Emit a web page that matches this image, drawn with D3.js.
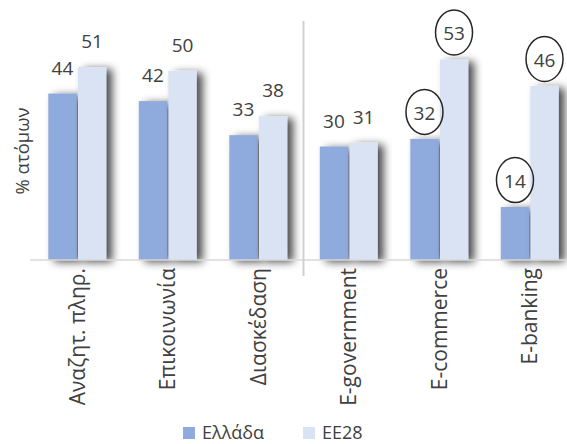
<!DOCTYPE html>
<html>
<head>
<meta charset="utf-8">
<script src="https://cdn.jsdelivr.net/npm/d3@7"></script>
<style>
  body { margin: 0; background: #fff; }
  text { font-family: "Open Sans", "Noto Sans", sans-serif; fill: #404040; }
</style>
</head>
<body>
<div id="chart"></div>
<script>
// Chart data
const categories = ["Αναζητ. πληρ.", "Επικοινωνία", "Διασκέδαση", "E-government", "E-commerce", "E-banking"];
const seriesNames = ["Ελλάδα", "ΕΕ28"];
const greece = [44, 42, 33, 30, 32, 14];
const eu28 = [51, 50, 38, 31, 53, 46];
const circled = ["E-commerce", "E-banking"];
const colors = ["#8faadc", "#dae3f3"];

const width = 567, height = 444;

const svg = d3.select("#chart").append("svg")
    .attr("width", width)
    .attr("height", height);

// Shadow like Excel's outer shadow
const defs = svg.append("defs");
defs.append("filter")
    .attr("id", "shadow")
    .attr("x", "-20%").attr("y", "-10%")
    .attr("width", "170%").attr("height", "130%")
  .append("feDropShadow")
    .attr("dx", 6).attr("dy", 2)
    .attr("stdDeviation", 4)
    .attr("flood-color", "#000")
    .attr("flood-opacity", 0.7);

// Scales
const x0 = d3.scaleBand().domain(categories).range([32, 575])
    .paddingInner(0.36).paddingOuter(0.18);
const x1 = d3.scaleBand().domain(seriesNames).range([0, x0.bandwidth()]).paddingInner(0.04);
const y = d3.scaleLinear().domain([0, 60]).range([260, 33]);

const rows = categories.map((c, i) => ({
    cat: c,
    values: [
        {key: seriesNames[0], value: greece[i]},
        {key: seriesNames[1], value: eu28[i]}
    ]
}));

// Bars
const groups = svg.append("g").selectAll("g")
    .data(rows)
    .enter().append("g")
    .attr("transform", d => "translate(" + x0(d.cat) + ",0)");

groups.selectAll("rect")
    .data(d => d.values)
    .enter().append("rect")
    .attr("x", d => x1(d.key))
    .attr("y", d => y(d.value))
    .attr("width", x1.bandwidth())
    .attr("height", d => y(0) - y(d.value))
    .attr("fill", (d, i) => colors[i])
    .attr("filter", "url(#shadow)");

// Axis line
svg.append("line")
    .attr("x1", 30).attr("x2", width)
    .attr("y1", y(0)).attr("y2", y(0))
    .attr("stroke", "#d9d9d9").attr("stroke-width", 1.5);

// Separator between categories 3 and 4
const sepX = (x0(categories[2]) + x0.bandwidth() + x0(categories[3])) / 2;
svg.append("line")
    .attr("x1", sepX).attr("x2", sepX)
    .attr("y1", 21).attr("y2", 276)
    .attr("stroke", "#d0d0d0").attr("stroke-width", 2);

// Value labels
groups.each(function(row) {
    const g = d3.select(this);
    row.values.forEach(v => {
        const cx = x1(v.key) + x1.bandwidth() / 2;
        const by = y(v.value) - 19;
        if (circled.includes(row.cat)) {
            g.append("ellipse")
                .attr("cx", cx).attr("cy", by - 8)
                .attr("rx", 18.5).attr("ry", 22.5)
                .attr("fill", "none")
                .attr("stroke", "#262626").attr("stroke-width", 1.5);
        }
        g.append("text")
            .attr("x", cx).attr("y", by)
            .attr("text-anchor", "middle")
            .style("font-size", "19px")
            .text(v.value);
    });
});

// Category labels (rotated)
svg.append("g").selectAll("text")
    .data(categories)
    .enter().append("text")
    .attr("transform", d => "translate(" + (x0(d) + x0.bandwidth() / 2) + ",268) rotate(-90)")
    .attr("text-anchor", "end")
    .attr("dy", "0.35em")
    .style("font-size", "21px")
    .text(d => d);

// Y axis title
svg.append("text")
    .attr("transform", "translate(23,151) rotate(-90)")
    .attr("text-anchor", "middle")
    .attr("dy", "0.35em")
    .style("font-size", "18.5px")
    .text("% ατόμων");

// Legend
const legendPos = [183, 303];
seriesNames.forEach((name, i) => {
    svg.append("rect")
        .attr("x", legendPos[i]).attr("y", 427)
        .attr("width", 12).attr("height", 12)
        .attr("fill", colors[i]);
    svg.append("text")
        .attr("x", legendPos[i] + 19).attr("y", 439)
        .style("font-size", "18px")
        .text(name);
});
</script>
</body>
</html>
